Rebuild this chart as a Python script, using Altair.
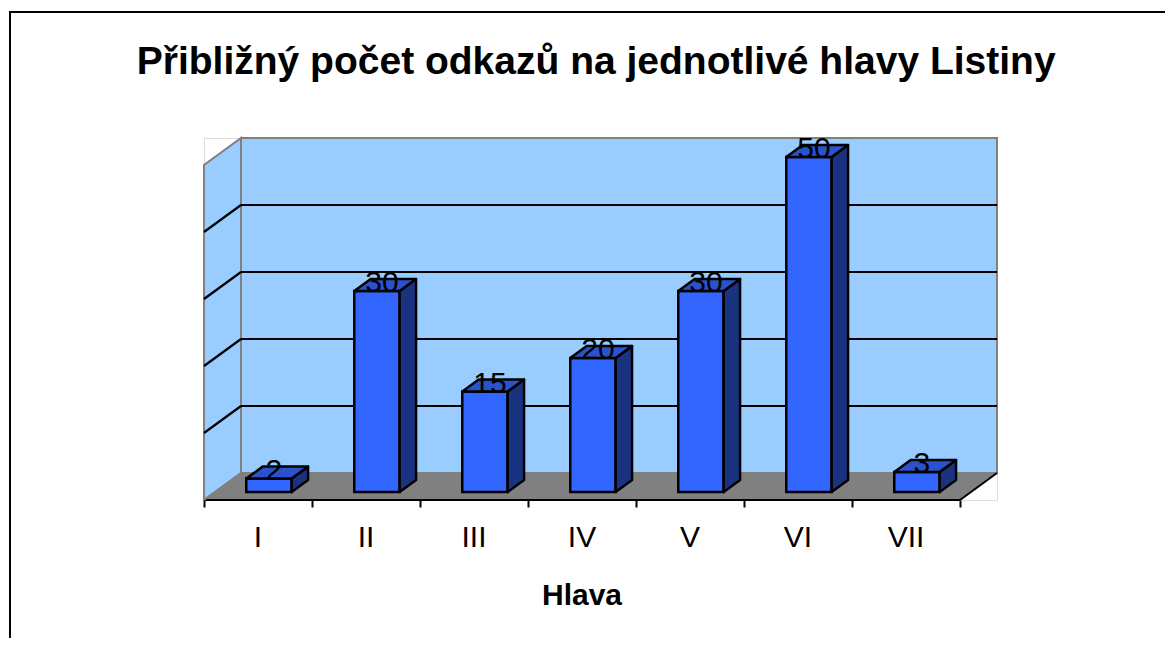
import altair as alt
import pandas as pd

# ---- data ----
categories = ["I", "II", "III", "IV", "V", "VI", "VII"]
values = [2, 30, 15, 20, 30, 50, 3]
grid_values = [10, 20, 30, 40]
axis_max = 50
title_text = "Přibližný počet odkazů na jednotlivé hlavy Listiny"
x_title = "Hlava"

# ---- 3D projection style constants (in data units) ----
DX = 0.3426   # horizontal shift of full depth, in category units
DY = 4.03     # vertical shift of full depth, in value units
T0 = 0.296    # depth of bar front face
T1 = 0.74     # depth of bar back face
W = 0.42      # bar width in category units
N = len(categories)

FONT = "Liberation Sans"
WALL = "#99CCFF"
GRAY = "#808080"
FRONT = "#3366FF"
SIDE = "#1A3380"
TOP = "#2A52CC"

xs = alt.Scale(domain=[0, N + DX], nice=False, zero=False)
ys = alt.Scale(domain=[0, axis_max + DY], nice=False, zero=False)
xaxis = alt.Axis(values=list(range(N + 1)), labels=False, domain=False, grid=False,
                 ticks=True, tickColor="black", tickWidth=2, tickSize=7, title=None)


def X(f):
    return alt.X(f, type="quantitative", scale=xs, axis=xaxis)


def Y(f):
    return alt.Y(f, type="quantitative", scale=ys, axis=None, stack=None)


# walls and floor
left_wall = pd.DataFrame({"x": [0, DX], "y": [0, DY], "y2": [axis_max, axis_max + DY]})
back_wall = pd.DataFrame({"x": [DX], "x2": [N + DX], "y": [DY], "y2": [axis_max + DY]})
floor = pd.DataFrame({"y": [0, DY], "x": [0, DX], "x2": [N, N + DX]})
grid = pd.DataFrame({"v": grid_values})
grid["yb"] = grid["v"] + DY

edges = pd.DataFrame({
    "x": [0, N, 0], "x2": [N, N + DX, DX], "y": [0, 0, 0], "y2": [0, DY, DY],
    "c": ["black", "black", GRAY]})

bars = pd.DataFrame({"cat": categories, "value": values, "i": range(N)})
bars["xl"] = bars["i"] + 0.5 - W / 2 + T0 * DX
bars["xr"] = bars["xl"] + W
bars["yb"] = T0 * DY
bars["yt"] = bars["value"] + T0 * DY
bars["lx"] = bars["i"] + 0.5 + (T0 + T1) / 2 * DX - 0.03
bars["cx"] = bars["i"] + 0.5

dT = T1 - T0
side_rows, top_rows = [], []
for _, r in bars.iterrows():
    side_rows.append({"cat": r["cat"], "x": r["xr"], "y": r["yb"], "y2": r["yt"]})
    side_rows.append({"cat": r["cat"], "x": r["xr"] + dT * DX, "y": r["yb"] + dT * DY,
                      "y2": r["yt"] + dT * DY})
    top_rows.append({"cat": r["cat"], "y": r["yt"], "x": r["xl"], "x2": r["xr"]})
    top_rows.append({"cat": r["cat"], "y": r["yt"] + dT * DY, "x": r["xl"] + dT * DX,
                     "x2": r["xr"] + dT * DX})
side = pd.DataFrame(side_rows)
top = pd.DataFrame(top_rows)

layers = []
layers.append(alt.Chart(left_wall).mark_area(orient="vertical", fill=WALL, stroke=GRAY,
                                              strokeWidth=2).encode(x=X("x"), y=Y("y"), y2="y2"))
layers.append(alt.Chart(back_wall).mark_rect(fill=WALL, stroke=GRAY, strokeWidth=2)
              .encode(x=X("x"), x2="x2", y=Y("y"), y2="y2"))
layers.append(alt.Chart(grid).mark_rule(color="black", strokeWidth=2.2)
              .encode(x=alt.datum(DX, type="quantitative", scale=xs, axis=xaxis),
                      x2=alt.datum(N + DX), y=Y("yb")))
layers.append(alt.Chart(grid).mark_rule(color="black", strokeWidth=2.2)
              .encode(x=alt.datum(0, type="quantitative", scale=xs, axis=xaxis),
                      x2=alt.datum(DX), y=Y("v"), y2="yb"))
layers.append(alt.Chart(floor).mark_area(orient="horizontal", fill=GRAY)
              .encode(y=Y("y"), x=X("x"), x2="x2"))
layers.append(alt.Chart(edges).mark_rule(strokeWidth=2)
              .encode(x=X("x"), x2="x2", y=Y("y"), y2="y2",
                      color=alt.Color("c:N", scale=None)))
layers.append(alt.Chart(bars).mark_rect(fill=FRONT, stroke="black", strokeWidth=2.5)
              .encode(x=X("xl"), x2="xr", y=Y("yb"), y2="yt"))
layers.append(alt.Chart(side).mark_area(orient="vertical", fill=SIDE, stroke="black",
                                         strokeWidth=2.5, strokeJoin="round")
              .encode(x=X("x"), y=Y("y"), y2="y2", detail="cat:N"))
layers.append(alt.Chart(top).mark_area(orient="horizontal", fill=TOP, stroke="black",
                                        strokeWidth=2.5, strokeJoin="round")
              .encode(y=Y("y"), x=X("x"), x2="x2", detail="cat:N"))
layers.append(alt.Chart(bars).mark_text(font=FONT, fontSize=30, color="black",
                                         baseline="alphabetic", align="center", dy=1)
              .encode(x=X("lx"), y=Y("yt"), text="value:Q"))
layers.append(alt.Chart(bars).mark_text(font=FONT, fontSize=30, color="black",
                                         baseline="alphabetic", align="center", dy=47)
              .encode(x=X("cx"), y=alt.datum(0, type="quantitative", scale=ys, axis=None),
                      text="cat:N"))
layers.append(alt.Chart(pd.DataFrame({"t": [x_title]})).mark_text(
    font=FONT, fontSize=30, fontWeight="bold", color="black", baseline="alphabetic",
    align="center", dy=105)
    .encode(x=alt.datum(N / 2, type="quantitative", scale=xs, axis=xaxis),
            y=alt.datum(0, type="quantitative", scale=ys, axis=None), text="t:N"))
# chart title
layers.append(alt.Chart(pd.DataFrame({"t": [title_text]})).mark_text(
    font=FONT, fontSize=39, fontWeight="bold", color="black", baseline="alphabetic",
    align="center", dy=-64)
    .encode(x=alt.datum((N + DX) / 2 - 0.04, type="quantitative", scale=xs, axis=xaxis),
            y=alt.datum(axis_max + DY, type="quantitative", scale=ys, axis=None),
            text="t:N"))
# outer frame of the chart
layers.append(alt.Chart(pd.DataFrame({"k": [0]})).mark_rect(
    fill=None, stroke="black", strokeWidth=2, clip=False)
    .encode(x=alt.value(-194), x2=alt.value(1200), y=alt.value(-126), y2=alt.value(700)))

chart = alt.layer(*layers).properties(
    width=793, height=362,
    padding={"left": 196, "top": 130, "right": 168, "bottom": 138},
    autosize=alt.AutoSizeParams(type="none"),
).configure_view(stroke=None).configure(background="white")

chart.save("out.html", embed_options={"renderer": "svg", "actions": False})
